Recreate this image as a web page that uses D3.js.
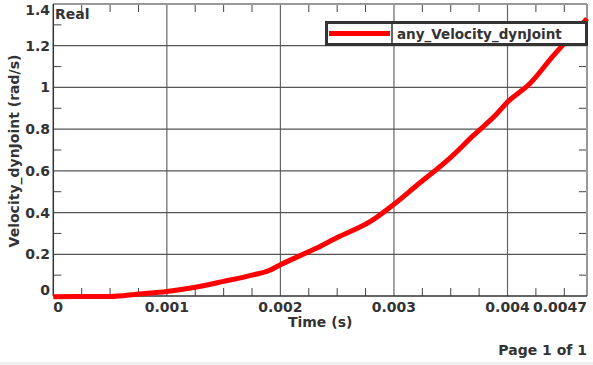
<!DOCTYPE html>
<html>
<head>
<meta charset="utf-8">
<script src="https://cdn.jsdelivr.net/npm/d3@7"></script>
<style>
  body { margin: 0; background: #fff; }
  svg { display: block; font-family: "DejaVu Sans", sans-serif; font-weight: bold; }
</style>
</head>
<body>
<svg id="chart" width="593" height="365"></svg>
<script>
// time (s) and joint velocity (rad/s)
var times = [0, 0.0005, 0.00075, 0.001, 0.00125, 0.0015, 0.00175, 0.0019, 0.002, 0.0023, 0.0025,
  0.0028, 0.003, 0.0032, 0.0035, 0.0037, 0.0039, 0.004, 0.0042, 0.0044, 0.0046, 0.0047];
var velocity = [-0.003, -0.002, 0.01, 0.022, 0.042, 0.07, 0.1, 0.122, 0.15, 0.225, 0.28,
  0.36, 0.44, 0.53, 0.665, 0.77, 0.87, 0.93, 1.02, 1.15, 1.27, 1.33];
var xTicks = [0, 0.001, 0.002, 0.003, 0.004, 0.0047];
var xTickLabels = ["0", "0.001", "0.002", "0.003", "0.004", "0.0047"];
var yTicks = [0, 0.2, 0.4, 0.6, 0.8, 1, 1.2, 1.4];
var yTickLabels = ["0", "0.2", "0.4", "0.6", "0.8", "1", "1.2", "1.4"];
var seriesName = "any_Velocity_dynJoint";

var data = times.map(function(t, i) { return {t: t, v: velocity[i]}; });

var svg = d3.select("#chart");
var pLeft = 53.3, pRight = 587, pTop = 4, pBottom = 296;

// grey strip at the very bottom
svg.append("rect").attr("x", 0).attr("y", 362).attr("width", 593).attr("height", 3).attr("fill", "#f0f0f0");

var x = d3.scaleLinear().domain([0, 0.0047]).range([pLeft, pRight]);
var y = d3.scaleLinear().domain([0, 1.4]).range([pBottom, pTop]);

var textCol = "#333";
var fs = 14;

// grid lines
svg.append("g").selectAll("line").data(xTicks.slice(1, -1)).join("line")
  .attr("x1", function(d) { return x(d); }).attr("x2", function(d) { return x(d); })
  .attr("y1", pTop).attr("y2", pBottom)
  .attr("stroke", "#666").attr("stroke-width", 1.2);
svg.append("g").selectAll("line").data(yTicks.slice(1, -1)).join("line")
  .attr("y1", function(d) { return y(d); }).attr("y2", function(d) { return y(d); })
  .attr("x1", pLeft).attr("x2", pRight)
  .attr("stroke", "#555").attr("stroke-width", 1.2);

// minor ticks inside the frame
var xMinor = d3.range(0.00025, 0.0047, 0.00025).filter(function(d) {
  return Math.abs(d / 0.001 - Math.round(d / 0.001)) > 1e-6;
});
var yMinor = d3.range(0.1, 1.4, 0.2);
var tk = 8;
svg.append("g").selectAll("line").data(xMinor).join("line")
  .attr("x1", function(d) { return x(d); }).attr("x2", function(d) { return x(d); })
  .attr("y1", pBottom).attr("y2", pBottom - tk).attr("stroke", "#444");
svg.append("g").selectAll("line").data(xMinor).join("line")
  .attr("x1", function(d) { return x(d); }).attr("x2", function(d) { return x(d); })
  .attr("y1", pTop).attr("y2", pTop + tk).attr("stroke", "#444");
svg.append("g").selectAll("line").data(yMinor).join("line")
  .attr("y1", function(d) { return y(d); }).attr("y2", function(d) { return y(d); })
  .attr("x1", pLeft).attr("x2", pLeft + tk).attr("stroke", "#444");
svg.append("g").selectAll("line").data(yMinor).join("line")
  .attr("y1", function(d) { return y(d); }).attr("y2", function(d) { return y(d); })
  .attr("x1", pRight).attr("x2", pRight - tk).attr("stroke", "#444");

// frame
svg.append("line").attr("x1", pLeft).attr("x2", pRight).attr("y1", pTop).attr("y2", pTop)
  .attr("stroke", "#999").attr("stroke-width", 2);
svg.append("line").attr("x1", pRight).attr("x2", pRight).attr("y1", pTop).attr("y2", pBottom)
  .attr("stroke", "#999").attr("stroke-width", 2);
svg.append("line").attr("x1", pLeft).attr("x2", pLeft).attr("y1", pTop).attr("y2", pBottom)
  .attr("stroke", "#333").attr("stroke-width", 1.5);
svg.append("line").attr("x1", pLeft).attr("x2", pRight).attr("y1", pBottom).attr("y2", pBottom)
  .attr("stroke", "#333").attr("stroke-width", 1.5);

// x tick labels
svg.append("g").selectAll("text").data(xTicks).join("text")
  .attr("x", function(d) { return x(d); })
  .attr("y", 311.5)
  .attr("text-anchor", function(d, i) { return i === 0 ? "start" : (i === xTicks.length - 1 ? "end" : "middle"); })
  .attr("font-size", fs).attr("fill", textCol)
  .text(function(d, i) { return xTickLabels[i]; });

// y tick labels
svg.append("g").selectAll("text").data(yTicks).join("text")
  .attr("x", 50)
  .attr("y", function(d, i) {
    if (i === 0) return y(d) - 1;
    if (i === yTicks.length - 1) return y(d) + 10.5;
    return y(d) + 5;
  })
  .attr("text-anchor", "end")
  .attr("font-size", fs).attr("fill", textCol)
  .text(function(d, i) { return yTickLabels[i]; });

// axis titles
svg.append("text").attr("x", (pLeft + pRight) / 2).attr("y", 327)
  .attr("text-anchor", "middle").attr("font-size", fs).attr("fill", textCol)
  .text("Time (s)");
svg.append("text")
  .attr("transform", "translate(19,151) rotate(-90)")
  .attr("text-anchor", "middle").attr("font-size", fs).attr("fill", textCol)
  .text("Velocity_dynJoint (rad/s)");

svg.append("text").attr("x", 55).attr("y", 18.5).attr("font-size", fs).attr("fill", textCol).text("Real");
svg.append("text").attr("x", 587).attr("y", 355).attr("text-anchor", "end")
  .attr("font-size", fs).attr("fill", textCol).text("Page 1 of 1");

// data line
svg.append("path").datum(data)
  .attr("fill", "none").attr("stroke", "#ff0000").attr("stroke-width", 5)
  .attr("stroke-linejoin", "round")
  .attr("d", d3.line().curve(d3.curveMonotoneX)
    .x(function(d) { return x(d.t); }).y(function(d) { return y(d.v); }));

// legend
var lg = svg.append("g");
lg.append("rect").attr("x", 326.5).attr("y", 22.5).attr("width", 260).attr("height", 22)
  .attr("fill", "#fff").attr("stroke", "#333").attr("stroke-width", 3);
lg.append("line").attr("x1", 392).attr("x2", 392).attr("y1", 23).attr("y2", 44)
  .attr("stroke", "#333").attr("stroke-width", 1.5);
lg.append("line").attr("x1", 329).attr("x2", 390).attr("y1", 33.5).attr("y2", 33.5)
  .attr("stroke", "#ff0000").attr("stroke-width", 5);
lg.append("text").attr("x", 397).attr("y", 39).attr("font-size", 13.5).attr("fill", textCol)
  .text(seriesName);
</script>
</body>
</html>
